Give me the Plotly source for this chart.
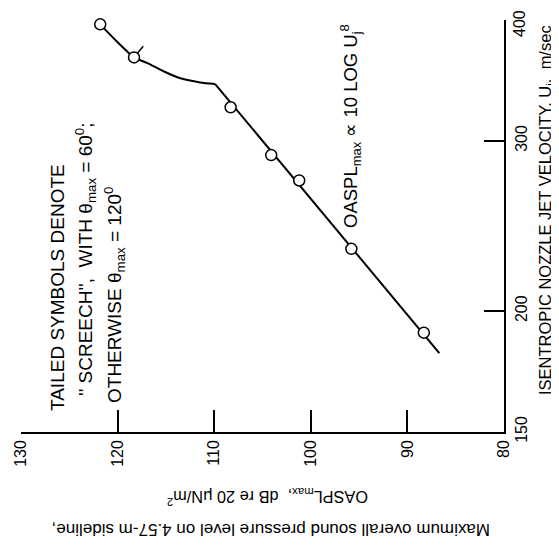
import math
import plotly.graph_objects as go

# ---- data ----
velocity = [396, 366, 325, 290, 273, 232, 190]          # Uj, m/sec
oaspl = [121.8, 118.3, 108.3, 104.1, 101.2, 95.8, 88.3]  # OASPLmax, dB
screech = [True, True, False, False, False, False, False]

# straight 80-log line segment
line_v = [181, 343.5]
line_oaspl = [86.7, 109.9]
# curved part through screech points
curve_v = [343.5, 344.8, 348.2, 354.3, 361.1, 366, 379.9, 396]
curve_oaspl = [109.9, 111.45, 113.5, 115.3, 116.9, 118.3, 120.05, 121.8]

x_ticks = [80, 90, 100, 110, 120, 130]
y_ticks = [150, 200, 300, 400]

FONT = "Liberation Sans, Arial, sans-serif"

fig = go.Figure()
fig.add_trace(go.Scatter(x=line_oaspl, y=line_v, mode="lines",
                         line=dict(color="black", width=2), showlegend=False))
fig.add_trace(go.Scatter(x=curve_oaspl, y=curve_v, mode="lines",
                         line=dict(color="black", width=2, shape="spline", smoothing=0.6),
                         showlegend=False))
# tails on screech symbols
for o, v, s in zip(oaspl, velocity, screech):
    if s:
        fig.add_trace(go.Scatter(x=[o, o - 0.95], y=[v, v * 1.027], mode="lines",
                                 line=dict(color="black", width=1.5), showlegend=False,
                                 cliponaxis=False))
fig.add_trace(go.Scatter(x=oaspl, y=velocity, mode="markers",
                         marker=dict(symbol="circle", size=11, color="white",
                                     line=dict(color="black", width=1.5)),
                         showlegend=False, cliponaxis=False))

# page has an 8px body margin; figure is placed at (8, 8)
fig.update_layout(
    template="none",
    width=551, height=537,
    margin=dict(l=13, r=55, t=12, b=113, pad=0),
    paper_bgcolor="white", plot_bgcolor="white",
    font=dict(family=FONT, color="black"),
    xaxis=dict(range=[130, 80], tickvals=x_ticks, ticktext=[str(t) for t in x_ticks],
               ticks="inside", ticklen=22, tickwidth=1.5, tickcolor="black",
               showline=True, linewidth=1.5, linecolor="black", mirror=False,
               showgrid=False, zeroline=False, tickangle=-90, automargin=False,
               ticklabelstandoff=0, ticklabeloverflow="allow",
               tickfont=dict(size=16, family=FONT)),
    yaxis=dict(type="log", range=[math.log10(150) - 1e-4, math.log10(400) + 1e-4],
               side="right",
               tickvals=y_ticks,
               ticktext=["" if t == max(y_ticks) else str(t) for t in y_ticks],
               ticks="inside", ticklen=20, tickwidth=1.5, tickcolor="black",
               showline=True, linewidth=1.5, linecolor="black", mirror=False,
               showgrid=False, zeroline=False, tickangle=-90, automargin=False,
               ticklabelstandoff=2, ticklabeloverflow="allow",
               tickfont=dict(size=16, family=FONT)),
)

# plot area in page pixels: x 21..504, y 20..432
def px(x):
    return (x - 21) / 483.0

def py(y):
    return (432 - y) / 412.0

ann = [
    dict(text="ISENTROPIC NOZZLE JET VELOCITY, U<sub>j</sub>,  m/sec",
         x=px(546), y=py(210), textangle=-90, font=dict(size=16.5, family=FONT)),
    dict(text="OASPL<sub>max</sub>,  dB re 20 μN/m<sup>2</sup>",
         x=px(268), y=py(497), textangle=180, font=dict(size=16.3, family=FONT)),
    dict(text="Maximum overall sound pressure level on 4.57-m sideline,",
         x=px(271), y=py(530), textangle=180, font=dict(size=17, family=FONT)),
    dict(text="TAILED SYMBOLS DENOTE",
         x=px(57), y=py(288), textangle=-90, font=dict(size=19, family=FONT)),
    dict(text="'' SCREECH'',  WITH θ<sub>max</sub> = 60<sup>0</sup>;",
         x=px(85), y=py(259), textangle=-90, font=dict(size=19, family=FONT)),
    dict(text="OTHERWISE θ<sub>max</sub> = 120<sup>0</sup>",
         x=px(114), y=py(295), textangle=-90, font=dict(size=19, family=FONT)),
    dict(text="OASPL<sub>max</sub> ∝ 10 LOG U<sub>j</sub><sup>8</sup>",
         x=px(350), y=py(126), textangle=-90, font=dict(size=18.5, family=FONT)),
    dict(text=str(max(y_ticks)), x=px(520), y=py(24), textangle=-90,
         font=dict(size=16, family=FONT)),
]
for a in ann:
    a.update(xref="paper", yref="paper", xanchor="center", yanchor="middle", showarrow=False)
fig.update_layout(annotations=ann)

fig.write_html("out.html")
